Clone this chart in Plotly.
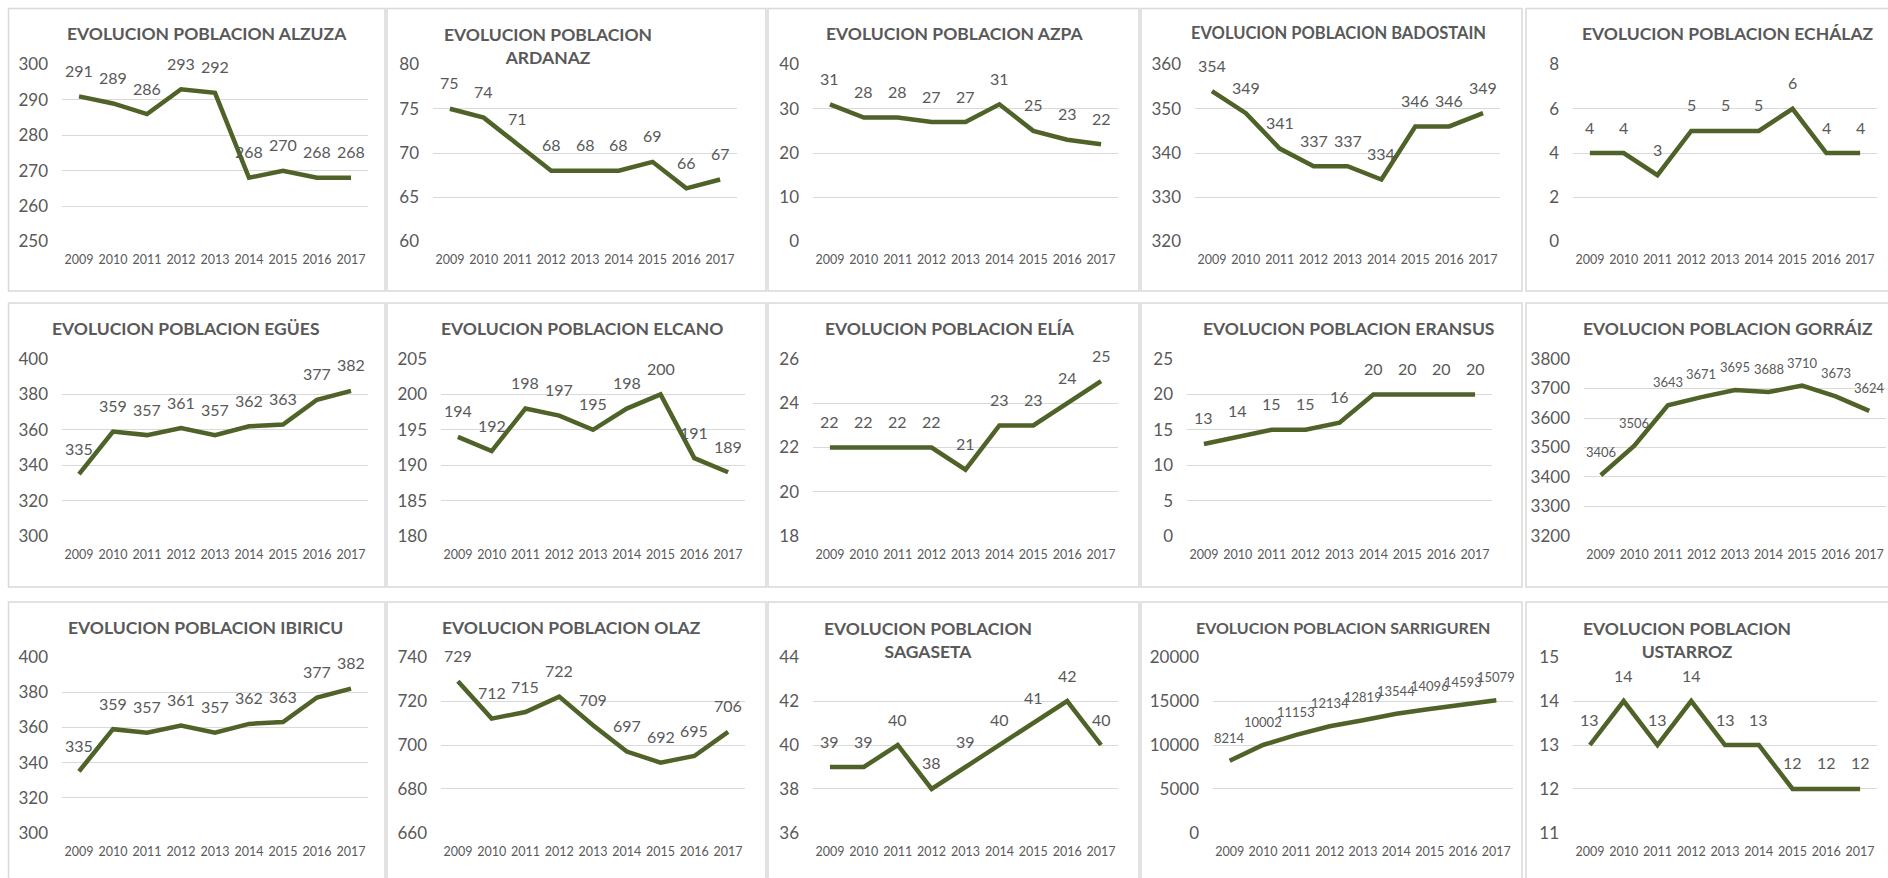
import plotly.graph_objects as go

# ---------------- data ----------------
years = ["2009", "2010", "2011", "2012", "2013", "2014", "2015", "2016", "2017"]

titles = [
    "EVOLUCION POBLACION ALZUZA", "EVOLUCION POBLACION<br>ARDANAZ", "EVOLUCION POBLACION AZPA",
    "EVOLUCION POBLACION BADOSTAIN", "EVOLUCION POBLACION ECHÁLAZ",
    "EVOLUCION POBLACION EGÜES", "EVOLUCION POBLACION ELCANO", "EVOLUCION POBLACION ELÍA",
    "EVOLUCION POBLACION ERANSUS", "EVOLUCION POBLACION GORRÁIZ",
    "EVOLUCION POBLACION IBIRICU", "EVOLUCION POBLACION OLAZ", "EVOLUCION POBLACION<br>SAGASETA",
    "EVOLUCION POBLACION SARRIGUREN", "EVOLUCION POBLACION<br>USTARROZ",
]

alzuza = [291, 289, 286, 293, 292, 268, 270, 268, 268]
ardanaz = [75, 74, 71, 68, 68, 68, 69, 66, 67]
azpa = [31, 28, 28, 27, 27, 31, 25, 23, 22]
badostain = [354, 349, 341, 337, 337, 334, 346, 346, 349]
echalaz = [4, 4, 3, 5, 5, 5, 6, 4, 4]
egues = [335, 359, 357, 361, 357, 362, 363, 377, 382]
elcano = [194, 192, 198, 197, 195, 198, 200, 191, 189]
elia = [22, 22, 22, 22, 21, 23, 23, 24, 25]
eransus = [13, 14, 15, 15, 16, 20, 20, 20, 20]
gorraiz = [3406, 3506, 3643, 3671, 3695, 3688, 3710, 3673, 3624]
ibiricu = [335, 359, 357, 361, 357, 362, 363, 377, 382]
olaz = [729, 712, 715, 722, 709, 697, 692, 695, 706]
sagaseta = [39, 39, 40, 38, 39, 40, 41, 42, 40]
sarriguren = [8214, 10002, 11153, 12134, 12819, 13544, 14096, 14593, 15079]
ustarroz = [13, 14, 13, 14, 13, 13, 12, 12, 12]

series = [alzuza, ardanaz, azpa, badostain, echalaz,
          egues, elcano, elia, eransus, gorraiz,
          ibiricu, olaz, sagaseta, sarriguren, ustarroz]

# y axis scales (min, max, step)
y_min = [250, 60, 0, 320, 0, 300, 180, 18, 0, 3200, 300, 660, 36, 0, 11]
y_max = [300, 80, 40, 360, 8, 400, 205, 26, 25, 3800, 400, 740, 44, 20000, 15]
y_step = [10, 5, 10, 10, 2, 20, 5, 2, 5, 100, 20, 20, 2, 5000, 1]

# ---------------- layout / style ----------------
W, H = 1888, 878


def px(x):
    return x / W


def py(y):
    return 1 - y / H


col_bounds = [(8.5, 385), (387, 766), (768, 1139), (1141, 1522), (1526, 1920)]
row_bounds = [(8.5, 291), (303, 587), (602, 900)]
row_grid = [(56, 233), (56, 233), (55, 231)]
plot_left = [62, 433, 813, 1195, 1573,
             62, 441, 813, 1187, 1584,
             62, 441, 813, 1213, 1573]
plot_w = [306, 304, 305, 305, 304,
          306, 304, 305, 305, 302,
          306, 304, 305, 300, 304]
title_x = [207, 548, 954, 1338, 1728,
           185, 582, 950, 1348, 1728,
           205, 571, 928, 1343, 1687]
title_size = [17.5, 17.5, 17.5, 16.5, 17.5,
              17.5, 17.5, 17.5, 17.5, 17.5,
              17.5, 17.5, 17.5, 16, 17.5]
label_size = [16, 16, 16, 16, 16,
              16, 16, 16, 16, 13,
              16, 16, 16, 13, 16]

LINE = "#4F6228"
TXT = "#595959"
GRID = "#D9D9D9"
FONT = "Lato"

fig = go.Figure()
annotations = []
shapes = []
layout_axes = {}

for i, vals in enumerate(series):
    r, c = divmod(i, 5)
    n = i + 1
    xa = "x" if n == 1 else f"x{n}"
    ya = "y" if n == 1 else f"y{n}"
    cl, cr = col_bounds[c]
    rt, rb = row_bounds[r]
    gt, gb = row_grid[r]

    # panel border
    shapes.append(dict(type="rect", xref="paper", yref="paper",
                       x0=px(cl), x1=px(cr), y0=py(rb), y1=py(rt),
                       line=dict(color=GRID, width=1.5), layer="below"))

    left = plot_left[i]
    right = plot_left[i] + plot_w[i]
    x0 = px(left)
    x1 = px(right)
    cat_w = plot_w[i] / 9
    xr = [-0.5, 8.5]
    if right > W:
        xr = [-0.5, 8.5 - (right - W) / cat_w]
        x1 = 1.0
    y_top = py(rt + gt)
    y_bot = py(rt + gb)

    fig.add_trace(go.Scatter(x=years, y=vals, mode="lines", xaxis=xa, yaxis=ya,
                             line=dict(color=LINE, width=4.5), showlegend=False,
                             hoverinfo="x+y"))

    span = y_max[i] - y_min[i]
    layout_axes["xaxis" if n == 1 else f"xaxis{n}"] = dict(
        domain=[x0, x1], anchor=ya, type="category", range=xr, automargin=False,
        showgrid=False, showline=False, zeroline=False, ticks="",
        tickfont=dict(family=FONT, size=12.5, color=TXT), ticklabelstandoff=9,
        fixedrange=True,
    )
    layout_axes["yaxis" if n == 1 else f"yaxis{n}"] = dict(
        domain=[y_bot, y_top], anchor=xa, automargin=False,
        range=[y_min[i] - span * 1e-4, y_max[i] + span * 1e-4],
        tick0=y_min[i], dtick=y_step[i], tickformat="d",
        showgrid=True, gridcolor=GRID, gridwidth=1, showline=False, zeroline=False,
        ticks="", tickfont=dict(family=FONT, size=17, color=TXT), ticklabelstandoff=13,
        fixedrange=True,
    )

    # title
    two_line = "<br>" in titles[i]
    ty = rt + (37.5 if two_line else 25)
    annotations.append(dict(text=f"<b>{titles[i]}</b>", xref="paper", yref="paper",
                            x=px(title_x[i]), y=py(ty), xanchor="center", yanchor="middle",
                            showarrow=False, align="center",
                            font=dict(family=FONT, size=title_size[i], color=TXT)))

    # data labels (category axis -> positions given as category index)
    shift = 26 if label_size[i] >= 16 else 23
    for j, v in enumerate(vals):
        annotations.append(dict(text=str(v), xref=xa, yref=ya, x=j, y=v,
                                yshift=shift, showarrow=False, xanchor="center", yanchor="middle",
                                font=dict(family=FONT, size=label_size[i], color=TXT)))

fig.update_layout(
    template="none",
    autosize=True, margin=dict(l=0, r=0, t=0, b=0, pad=0, autoexpand=False),
    paper_bgcolor="white", plot_bgcolor="white",
    annotations=annotations, shapes=shapes, showlegend=False,
    **layout_axes,
)

fig.write_html(
    "out.html",
    config={"displayModeBar": False},
    default_width=f"{W}px;position:absolute;left:0;top:0;overflow:hidden",
    default_height=f"{H}px",
)
